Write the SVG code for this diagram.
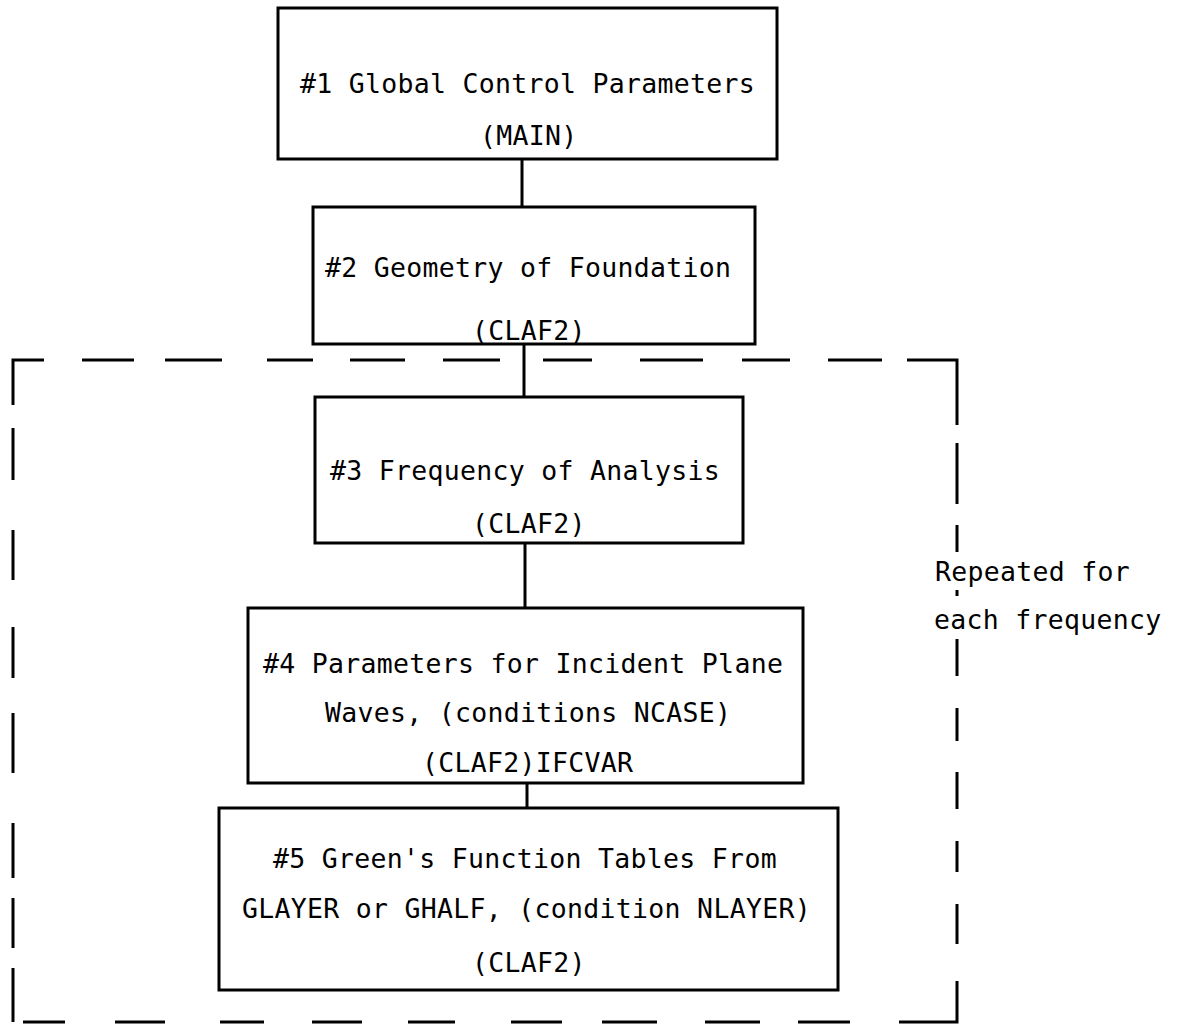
<svg xmlns="http://www.w3.org/2000/svg" width="1183" height="1026" viewBox="0 0 1183 1026">
  <style>
    .box { fill: none; stroke: #000; stroke-width: 3; }
    .conn { fill: none; stroke: #000; stroke-width: 3; }
    .region { fill: none; stroke: #000; stroke-width: 3; stroke-linecap: butt; }
    text { font-family: "DejaVu Sans Mono", "Liberation Mono", monospace; font-size: 26.5px; letter-spacing: 0.3px; fill: #000; }
  </style>
  <rect width="1183" height="1026" fill="#fff"/>

  <g id="repeat-region">
    <path class="region" d="M44 360 H13 V405 M82 360 H134 M165 360 H222 M267 360 H313 M350 360 H405 M443 360 H500 M543 360 H592 M640 360 H703 M742 360 H790 M828 360 H882 M907 360 H957 V425
      M957 443 V504 M957 525 V552 M957 590 V596 M957 639 V676 M957 708 V741 M957 772 V809 M957 841 V872 M957 904 V944 M957 981 V1022 H899
      M850 1022 H798 M760 1022 H705 M657 1022 H602 M562 1022 H511 M455 1022 H408 M362 1022 H312 M264 1022 H220 M165 1022 H115 M65 1022 H23
      M13 428 V480 M13 530 V580 M13 627 V678 M13 713 V773 M13 823 V878 M13 898 V948 M13 968 V1022"/>
    <text x="935" y="581">Repeated for</text>
    <text x="934" y="629">each frequency</text>
  </g>

  <g id="connectors">
    <line class="conn" x1="522" y1="159" x2="522" y2="207"/>
    <line class="conn" x1="524" y1="344" x2="524" y2="397"/>
    <line class="conn" x1="525" y1="543" x2="525" y2="608"/>
    <line class="conn" x1="527" y1="783" x2="527" y2="808"/>
  </g>

  <g id="node1">
    <rect class="box" x="278" y="8" width="499" height="151"/>
    <text x="300" y="93">#1 Global Control Parameters</text>
    <text x="480" y="145">(MAIN)</text>
  </g>

  <g id="node2">
    <rect class="box" x="313" y="207" width="442" height="137"/>
    <text x="325" y="277">#2 Geometry of Foundation</text>
    <text x="472" y="340">(CLAF2)</text>
  </g>

  <g id="node3">
    <rect class="box" x="315" y="397" width="428" height="146"/>
    <text x="330" y="480">#3 Frequency of Analysis</text>
    <text x="472" y="533">(CLAF2)</text>
  </g>

  <g id="node4">
    <rect class="box" x="248" y="608" width="555" height="175"/>
    <text x="263" y="673">#4 Parameters for Incident Plane</text>
    <text x="325" y="722">Waves, (conditions NCASE)</text>
    <text x="422" y="772">(CLAF2)IFCVAR</text>
  </g>

  <g id="node5">
    <rect class="box" x="219" y="808" width="619" height="182"/>
    <text x="273" y="868">#5 Green's Function Tables From</text>
    <text x="242" y="918">GLAYER or GHALF, (condition NLAYER)</text>
    <text x="472" y="972">(CLAF2)</text>
  </g>
</svg>
